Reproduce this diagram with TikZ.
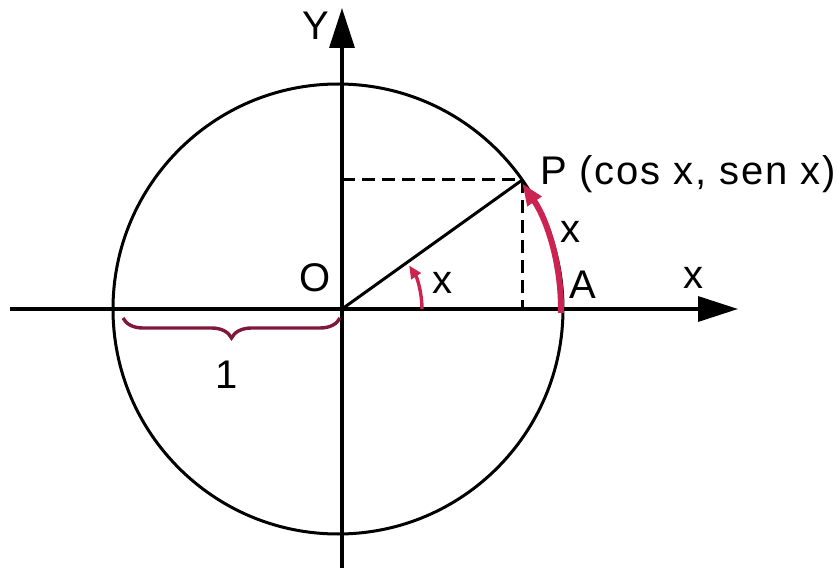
\documentclass[tikz,border=0pt]{standalone}
\usepackage{fontspec}
\setmainfont{Liberation Sans}
\newfontfamily\lblfont[LetterSpace=4.5]{Liberation Sans}
\usetikzlibrary{arrows.meta,decorations.pathreplacing,calc}
\definecolor{arcred}{RGB}{204,36,80}
\definecolor{bracered}{RGB}{128,24,58}
\tikzset{
  axis/.style={line width=3.4pt,-{Triangle[length=40pt,width=25pt]}},
  thin line/.style={line width=3pt},
  dashline/.style={line width=3pt,dash pattern=on 13pt off 7pt},
  redarc/.style={line width=6pt,arcred,-{Triangle[length=22pt,width=16pt]}},
  smallarc/.style={line width=3.4pt,arcred,-{Triangle[length=13pt,width=11pt]}},
  lbl/.style={inner sep=0pt,font=\lblfont\fontsize{40}{40}\selectfont}
}
\begin{document}
\begin{tikzpicture}[x=1pt,y=1pt]
\useasboundingbox (-342,-261) rectangle (496,309);
\coordinate (O) at (0,0);
\coordinate (C) at (-4,0);
\coordinate (P) at ($(C)+(35:225)$);
\coordinate (Xs) at (-332,0);
\coordinate (Xe) at (396,0);
\coordinate (Ys) at (0,-259);
\coordinate (Ye) at (0,301);
\coordinate (Py) at (O |- P);
\coordinate (Px) at (P |- O);
\coordinate (A) at ($(C)+(-1:223)$);
\coordinate (B0) at (80,0);
\coordinate (Bl) at (-219,-9);
\coordinate (Br) at (-2,-9);
% circle
\draw[thin line] (C) circle[radius=225];
% axes
\draw[axis] (Xs) -- (Xe);
\draw[axis] (Ys) -- (Ye);
% radius and projections
\draw[thin line] (O) -- (P);
\draw[dashline] (Py) -- (P);
\draw[dashline] (P) -- (Px);
% arcs
\draw[redarc] (A) arc[start angle=-1,end angle=34.3,radius=223];
\draw[smallarc] (B0) arc[start angle=0,end angle=33,radius=80];
% brace
\draw[bracered,line width=3.4pt,decorate,decoration={brace,mirror,amplitude=20pt,aspect=0.5}] (Bl) -- (Br);
% labels
\node[lbl] (ly) at (-26,283) {Y};
\node[lbl] (lx) at (351,31) {x};
\node[lbl] (lo) at (-27,31) {O};
\node[lbl] (la) at (241,24) {A};
\node[lbl] (lxa) at (228,77) {x};
\node[lbl] (lxs) at (100,26) {x};
\node[lbl] (l1) at (-115,-66) {1};
\node[lbl,anchor=base west] (lp) at (198,124) {P (cos x, sen x)};
\end{tikzpicture}
\end{document}
